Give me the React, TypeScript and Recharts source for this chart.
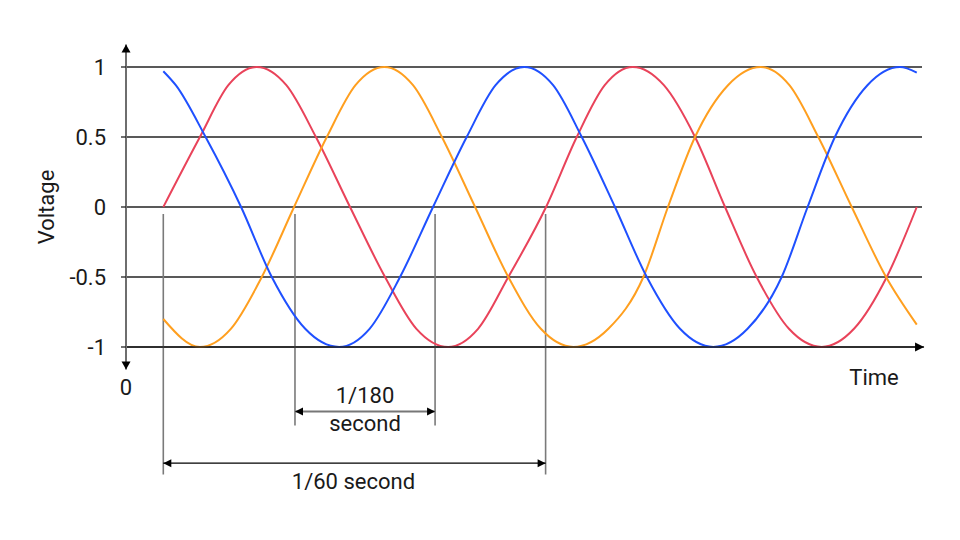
import React from 'react';
import { LineChart, Line, XAxis, YAxis, ReferenceLine } from 'recharts';

// time in ms from the voltage axis, voltage as a fraction of peak
const redTime = [1.64, 3.25, 4.5, 5.75, 7.05, 8.35, 9.85, 11.39, 12.77, 14.16, 15.48, 16.81, 18.47, 19.82, 21.05, 22.28, 23.65, 25.02, 26.34, 27.73, 29.15, 30.59, 32.01, 33.45, 34.77];
const redVolt = [0, 0.5, 0.87, 1, 0.87, 0.5, 0, -0.5, -0.87, -1, -0.87, -0.5, 0, 0.5, 0.87, 1, 0.87, 0.5, 0, -0.5, -0.87, -1, -0.87, -0.5, 0];

const orangeTime = [1.64, 3.25, 4.61, 5.97, 7.39, 8.83, 10.09, 11.36, 12.62, 13.89, 15.35, 16.81, 18.24, 19.67, 21.21, 22.75, 23.83, 25.02, 26.47, 27.91, 29.17, 30.44, 31.91, 33.42, 34.77];
const orangeVolt = [-0.8, -1, -0.87, -0.5, 0, 0.5, 0.87, 1, 0.87, 0.5, 0, -0.5, -0.87, -1, -0.87, -0.5, 0, 0.5, 0.87, 1, 0.87, 0.5, 0, -0.5, -0.84];

const blueTime = [1.64, 2.19, 3.5, 5.06, 6.41, 7.88, 9.37, 10.71, 12.05, 13.5, 14.98, 16.25, 17.51, 18.78, 20.04, 21.5, 22.9, 24.36, 25.82, 27.33, 28.83, 29.97, 31.17, 32.6, 34.03, 34.77];
const blueVolt = [0.97, 0.87, 0.5, 0, -0.5, -0.87, -1, -0.87, -0.5, 0, 0.5, 0.87, 1, 0.87, 0.5, 0, -0.5, -0.87, -1, -0.87, -0.5, 0, 0.5, 0.87, 1, 0.96];

const voltTicks = [-1, -0.5, 0, 0.5, 1];

// where the 1/60 s and 1/180 s spans start and end
const periodStart = 1.64;
const periodEnd = 18.45;
const thirdStart = 7.43;
const thirdEnd = 13.59;

const toPoints = (ts: number[], vs: number[]) => ts.map((t, i) => ({ t, v: vs[i] }));

const redData = toPoints(redTime, redVolt);
const orangeData = toPoints(orangeTime, orangeVolt);
const blueData = toPoints(blueTime, blueVolt);

const FONT = 'Roboto, "DejaVu Sans", sans-serif';
const TEXT = '#1a1a1a';

const head = (tx: number, ty: number, ux: number, uy: number, len: number, half: number) => {
  // tip at (tx, ty), pointing along (ux, uy)
  const bx = tx - ux * len;
  const by = ty - uy * len;
  const px = -uy * half;
  const py = ux * half;
  return `${tx},${ty} ${bx + px},${by + py} ${bx - px},${by - py}`;
};

interface ArrowOpts {
  color: string;
  width: number;
  start?: boolean;
  end?: boolean;
  len?: number;
  half?: number;
  extra?: (x1: number, y1: number, x2: number, y2: number) => React.ReactNode;
}

const arrowLine = (o: ArrowOpts) => (props: any) => {
  const { x1, y1, x2, y2 } = props;
  const dx = x2 - x1;
  const dy = y2 - y1;
  const d = Math.sqrt(dx * dx + dy * dy) || 1;
  const ux = dx / d;
  const uy = dy / d;
  const len = o.len ?? 8;
  const half = o.half ?? 4;
  return (
    <g>
      <line x1={x1} y1={y1} x2={x2} y2={y2} stroke={o.color} strokeWidth={o.width} />
      {o.start && <polygon points={head(x1, y1, -ux, -uy, len, half)} fill="#000" />}
      {o.end && <polygon points={head(x2, y2, ux, uy, len, half)} fill="#000" />}
      {o.extra && o.extra(x1, y1, x2, y2)}
    </g>
  );
};

const label = (x: number, y: number, text: string, anchor: 'middle' | 'start' | 'end' = 'middle') => (
  <text x={x} y={y} textAnchor={anchor} fill={TEXT} fontSize={22} fontFamily={FONT}>
    {text}
  </text>
);

const App: React.FC = () => {
  return (
    <div style={{ position: 'absolute', left: 0, top: 0, width: 960, height: 540, background: '#fff' }}>
      <LineChart width={960} height={540} margin={{ top: 67, right: 38, bottom: 193, left: 66 }}>
        <XAxis type="number" dataKey="t" domain={[0, 35]} hide />
        <YAxis
          type="number"
          domain={[-1, 1]}
          ticks={voltTicks}
          width={60}
          axisLine={false}
          tickLine={{ stroke: '#222', strokeWidth: 1.3 }}
          tickSize={5}
          tickMargin={15}
          tick={{ fill: TEXT, fontSize: 22, fontFamily: FONT }}
        />

        {voltTicks.map(v => (
          <ReferenceLine key={v} y={v} stroke="#222" strokeWidth={1.3} />
        ))}

        {/* span markers */}
        {[periodStart, periodEnd].map(t => (
          <ReferenceLine
            key={'p' + t}
            segment={[{ x: t, y: -0.05 }, { x: t, y: -1.91 }]}
            ifOverflow="visible"
            stroke="#7a7a7a"
            strokeWidth={1.6}
          />
        ))}
        {[thirdStart, thirdEnd].map(t => (
          <ReferenceLine
            key={'s' + t}
            segment={[{ x: t, y: -0.05 }, { x: t, y: -1.56 }]}
            ifOverflow="visible"
            stroke="#7a7a7a"
            strokeWidth={1.6}
          />
        ))}

        <ReferenceLine
          segment={[{ x: thirdStart, y: -1.46 }, { x: thirdEnd, y: -1.46 }]}
          ifOverflow="visible"
          shape={arrowLine({
            color: '#777',
            width: 2,
            start: true,
            end: true,
            extra: (x1, y1, x2) => (
              <>
                {label((x1 + x2) / 2, y1 - 8, '1/180')}
                {label((x1 + x2) / 2, y1 + 20, 'second')}
              </>
            ),
          })}
        />
        <ReferenceLine
          segment={[{ x: periodStart, y: -1.83 }, { x: periodEnd, y: -1.83 }]}
          ifOverflow="visible"
          shape={arrowLine({
            color: '#000',
            width: 1.3,
            start: true,
            end: true,
            extra: (x1, y1, x2) => label((x1 + x2) / 2 - 1, y1 + 26, '1/60 second'),
          })}
        />

        <Line data={redData} dataKey="v" type="monotone" stroke="#e9435a" strokeWidth={2} dot={false} isAnimationActive={false} />
        <Line data={orangeData} dataKey="v" type="monotone" stroke="#ff9f1f" strokeWidth={2} dot={false} isAnimationActive={false} />
        <Line data={blueData} dataKey="v" type="monotone" stroke="#1f50ff" strokeWidth={2} dot={false} isAnimationActive={false} />

        {/* time axis */}
        <ReferenceLine
          segment={[{ x: 0, y: -1 }, { x: 35.09, y: -1 }]}
          ifOverflow="visible"
          shape={arrowLine({
            color: '#222',
            width: 1.3,
            end: true,
            len: 9,
            half: 4.5,
            extra: (_x1, _y1, x2, y2) => label(x2 - 50, y2 + 38, 'Time'),
          })}
        />
        {/* voltage axis */}
        <ReferenceLine
          segment={[{ x: 0, y: -1.16 }, { x: 0, y: 1.16 }]}
          ifOverflow="visible"
          shape={arrowLine({
            color: '#6e6e6e',
            width: 2,
            start: true,
            end: true,
            len: 8,
            half: 4.5,
            extra: (x1, y1, _x2, y2) => (
              <>
                {label(x1, y1 + 26, '0')}
                <text
                  x={x1 - 72}
                  y={(y1 + y2) / 2}
                  textAnchor="middle"
                  fill={TEXT}
                  fontSize={22}
                  fontFamily={FONT}
                  transform={`rotate(-90, ${x1 - 72}, ${(y1 + y2) / 2})`}
                >
                  Voltage
                </text>
              </>
            ),
          })}
        />
      </LineChart>
    </div>
  );
};

export default App;
